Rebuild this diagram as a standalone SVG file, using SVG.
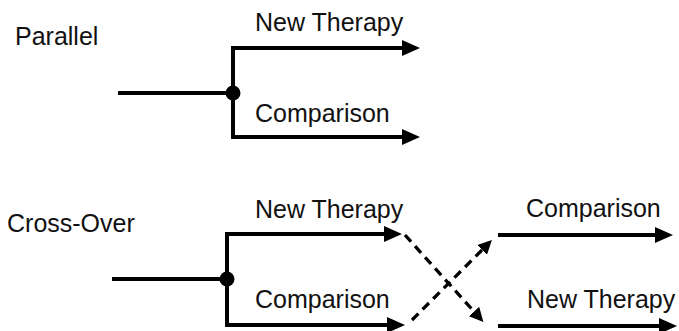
<svg xmlns="http://www.w3.org/2000/svg" width="679" height="331" viewBox="0 0 679 331">
<style>
text{font-family:"Liberation Sans",Arial,sans-serif;font-size:25px;fill:#111}
.ln{fill:none;stroke:#000;stroke-width:4}
.ds{fill:none;stroke:#000;stroke-width:3.3;stroke-dasharray:9 6}
</style>
<defs>
<marker id="ah" markerUnits="userSpaceOnUse" markerWidth="18" markerHeight="18" refX="0" refY="9" orient="auto"><path d="M0,1 L18,9 L0,17 z" fill="#000"/></marker>
<marker id="ahs" markerUnits="userSpaceOnUse" markerWidth="14" markerHeight="14" refX="0" refY="7" orient="auto"><path d="M0,0 L14,7 L0,14 z" fill="#000"/></marker>
</defs>
<rect width="679" height="331" fill="#fff"/>
<g id="connectors">
<line class="ln" x1="118" y1="93" x2="233" y2="93"/>
<path class="ln" d="M233,93 V48 H402" marker-end="url(#ah)"/>
<path class="ln" d="M233,93 V137 H402" marker-end="url(#ah)"/>
<line class="ln" x1="112" y1="279" x2="227" y2="279"/>
<path class="ln" d="M227,279 V234 H384" marker-end="url(#ah)"/>
<path class="ln" d="M227,279 V325 H387" marker-end="url(#ah)"/>
<path class="ln" d="M498,235 H655" marker-end="url(#ah)"/>
<path class="ln" d="M498,326 H659" marker-end="url(#ah)"/>
<path class="ds" d="M405,235 L474,311.5" marker-end="url(#ahs)"/>
<path class="ds" d="M412,320 L482,250" marker-end="url(#ahs)"/>
</g>
<g id="parallel"><text x="15" y="45">Parallel</text></g>
<g id="parallel-split"><circle cx="233" cy="93" r="7.5" fill="#000"/></g>
<g id="parallel-new"><text x="255" y="31">New Therapy</text></g>
<g id="parallel-comp"><text x="255" y="122">Comparison</text></g>
<g id="crossover"><text x="7" y="232">Cross-Over</text></g>
<g id="crossover-split"><circle cx="227" cy="279" r="7.5" fill="#000"/></g>
<g id="co-new1"><text x="255" y="218">New Therapy</text></g>
<g id="co-comp1"><text x="255" y="308">Comparison</text></g>
<g id="co-comp2"><text x="526" y="217">Comparison</text></g>
<g id="co-new2"><text x="527" y="308">New Therapy</text></g>
</svg>
